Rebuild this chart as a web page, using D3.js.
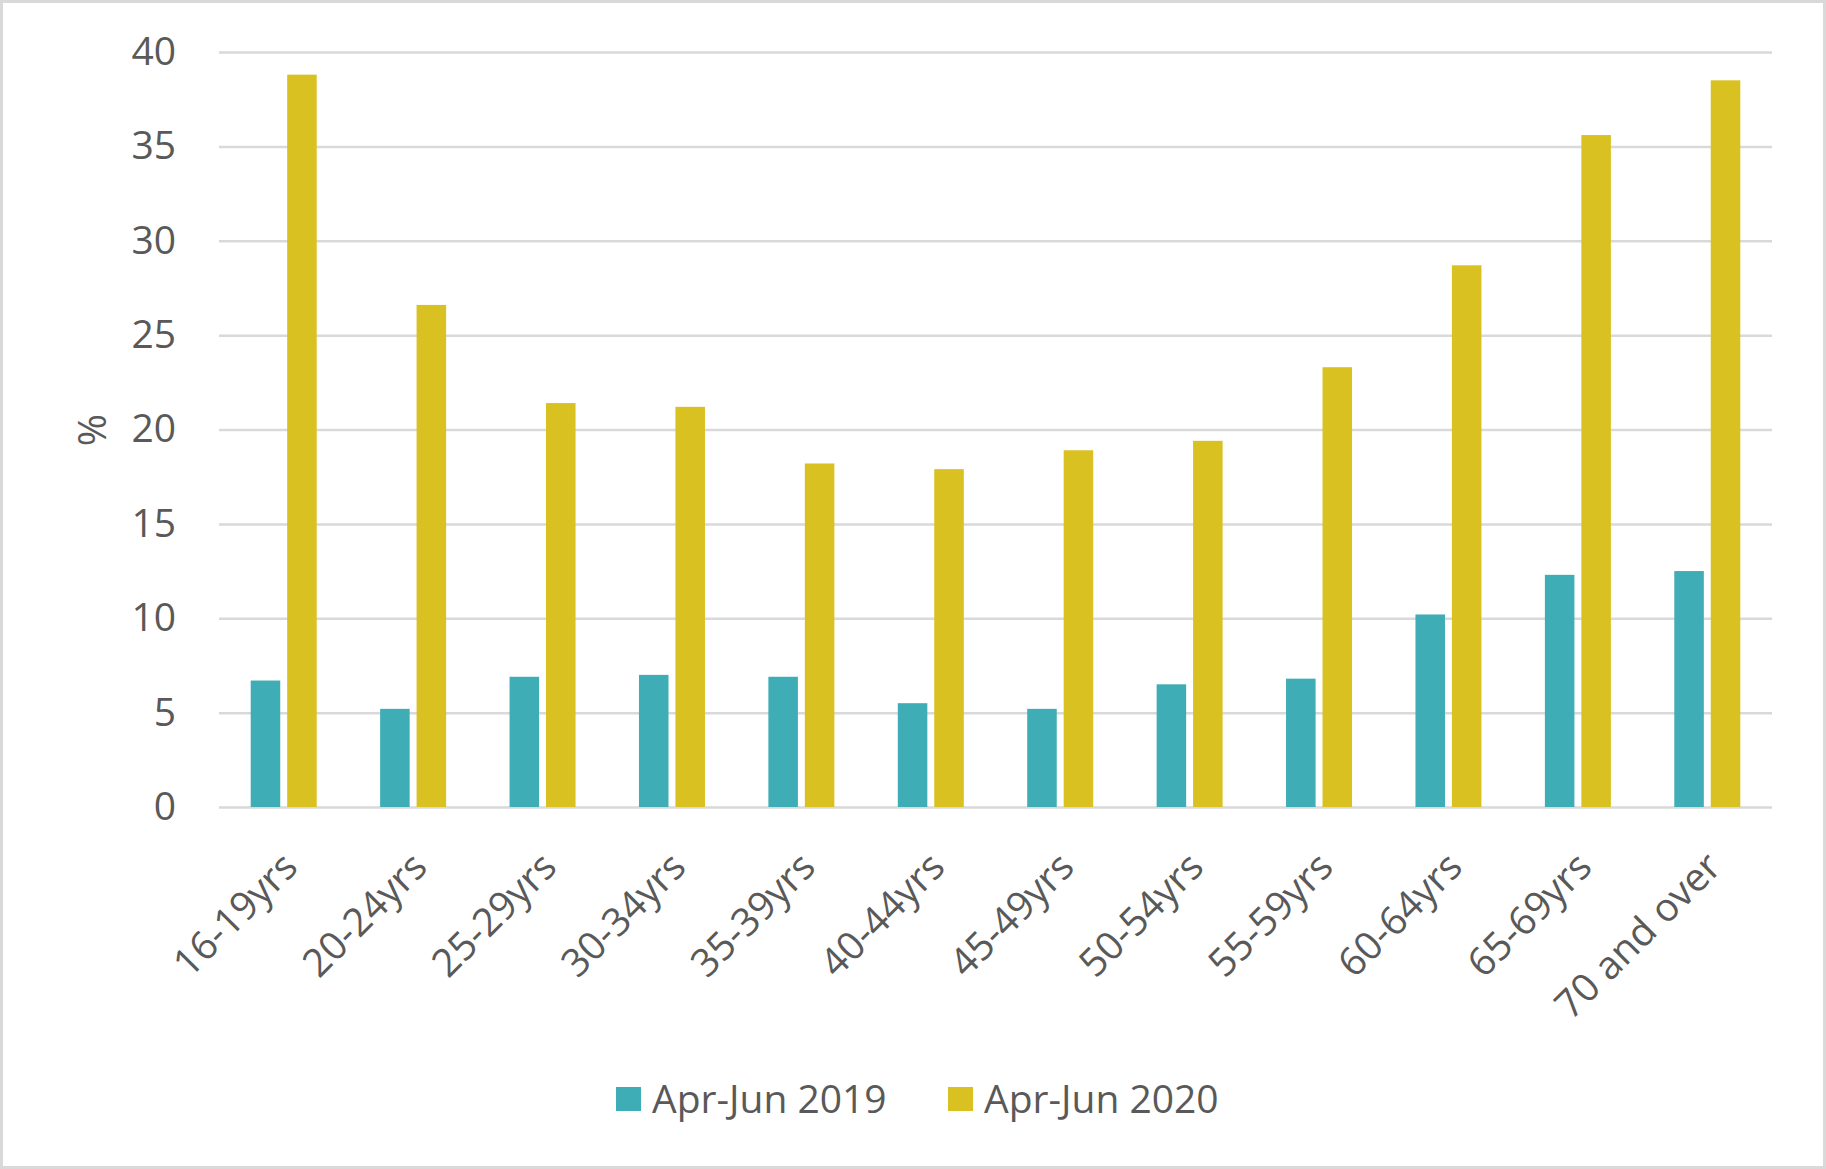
<!DOCTYPE html>
<html>
<head>
<meta charset="utf-8">
<script src="https://cdn.jsdelivr.net/npm/d3@7"></script>
<style>
  body { margin: 0; background: #fff; }
  text { font-family: "Open Sans", "Noto Sans", sans-serif; fill: #595959; }
</style>
</head>
<body>
<div class="age_plot"></div>
<script>
// age groups and the two survey periods
const categories = ['16-19yrs', '20-24yrs', '25-29yrs', '30-34yrs', '35-39yrs', '40-44yrs',
                    '45-49yrs', '50-54yrs', '55-59yrs', '60-64yrs', '65-69yrs', '70 and over'];
const seriesNames = ['Apr-Jun 2019', 'Apr-Jun 2020'];
const values2019 = [6.7, 5.2, 6.9, 7.0, 6.9, 5.5, 5.2, 6.5, 6.8, 10.2, 12.3, 12.5];
const values2020 = [38.8, 26.6, 21.4, 21.2, 18.2, 17.9, 18.9, 19.4, 23.3, 28.7, 35.6, 38.5];
const yTicks = [0, 5, 10, 15, 20, 25, 30, 35, 40];
const colors = ['#3fadb6', '#d9c122'];

const width = 1826, height = 1169;
const plot = {left: 219, right: 1772, top: 52, bottom: 807};

const data = categories.map((c, i) => ({cat: c, vals: [values2019[i], values2020[i]]}));

const svg = d3.select('.age_plot')
              .append('svg')
              .attr('width', width)
              .attr('height', height);

// outer frame
svg.append('rect')
   .attr('x', 1.5).attr('y', 1.5)
   .attr('width', width - 3).attr('height', height - 3)
   .attr('fill', '#fff')
   .attr('stroke', '#d9d9d9')
   .attr('stroke-width', 3);

const xScale = d3.scaleBand()
                 .domain(categories)
                 .range([plot.left, plot.right]);

const xInner = d3.scaleBand()
                 .domain(seriesNames)
                 .range([-33, 33])
                 .paddingInner(0.19);

const yScale = d3.scaleLinear()
                 .domain([0, 40])
                 .range([plot.bottom, plot.top]);

// gridlines via the axis
const yAxis = d3.axisLeft(yScale)
                .tickValues(yTicks)
                .tickSize(-(plot.right - plot.left))
                .tickPadding(43);

svg.append('g')
   .attr('class', 'axis y-axis')
   .attr('transform', `translate(${plot.left}, 0)`)
   .call(yAxis)
   .call(g => g.select('.domain').remove())
   .call(g => g.selectAll('line').attr('stroke', '#d9d9d9').attr('stroke-width', 2.5))
   .call(g => g.selectAll('text').attr('font-size', 39).style('fill', '#595959'));

// bars
const groups = svg.selectAll('.group')
                  .data(data)
                  .enter()
                  .append('g')
                  .attr('class', 'group')
                  .attr('transform', d => `translate(${xScale(d.cat) + xScale.bandwidth() / 2}, 0)`);

groups.selectAll('rect')
      .data(d => d.vals.map((v, j) => ({series: seriesNames[j], value: v, j: j})))
      .enter()
      .append('rect')
      .attr('x', d => xInner(d.series))
      .attr('width', xInner.bandwidth())
      .attr('y', d => yScale(d.value))
      .attr('height', d => yScale(0) - yScale(d.value))
      .attr('fill', d => colors[d.j]);

// category labels, rotated
const xAxis = d3.axisBottom(xScale).tickSize(0).tickPadding(0);
svg.append('g')
   .attr('class', 'axis x-axis')
   .attr('transform', `translate(0, ${plot.bottom})`)
   .call(xAxis)
   .call(g => g.select('.domain').remove())
   .call(g => g.selectAll('text')
               .attr('font-size', 39)
               .style('fill', '#595959')
               .attr('text-anchor', 'end')
               .attr('dy', 0)
               .attr('transform', 'translate(16, 62) rotate(-45)'));

// y axis title
svg.append('text')
   .attr('transform', 'translate(106, 430) rotate(-90)')
   .attr('text-anchor', 'middle')
   .attr('font-size', 39)
   .text('%');

// legend
const legendX = [616, 948];
const legend = svg.selectAll('.legend')
                  .data(seriesNames)
                  .enter()
                  .append('g')
                  .attr('class', 'legend')
                  .attr('transform', (d, i) => `translate(${legendX[i]}, 1087)`);
legend.append('rect')
      .attr('width', 25).attr('height', 24)
      .attr('fill', (d, i) => colors[i]);
legend.append('text')
      .attr('x', 36).attr('y', 26)
      .attr('font-size', 39)
      .text(d => d);
</script>
</body>
</html>
